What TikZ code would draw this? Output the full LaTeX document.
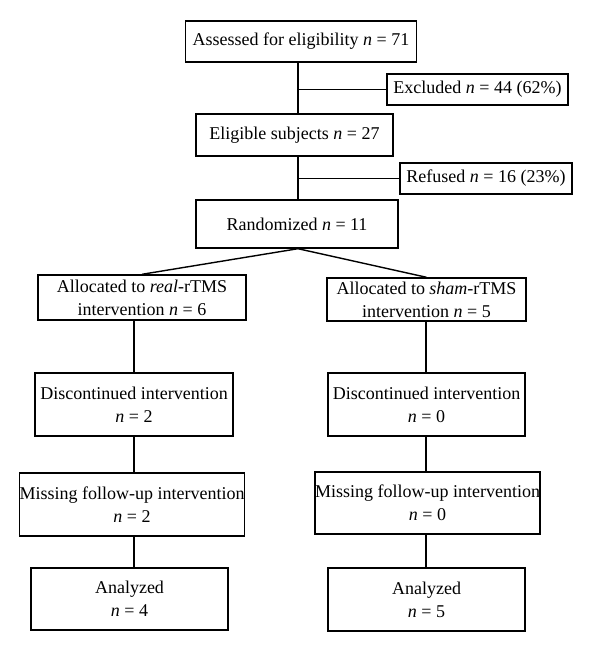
\documentclass[tikz,border=0pt]{standalone}
\usepackage{fontspec}
\setmainfont{Liberation Serif}
\newcommand{\nn}{\textit{n}}
\begin{document}
\begin{tikzpicture}[x=1pt,y=-1pt,
  every node/.style={font=\fontsize{18}{23}\selectfont},
  box/.style={draw, line width=1.4pt, rectangle, align=center, inner sep=0pt},
  conn/.style={line width=1.4pt}]
\useasboundingbox[fill=white] (0,0) rectangle (600,652);
\coordinate (t) at (298,0);
\coordinate (lx) at (134,0);
\coordinate (rx) at (426,0);
\node[box, minimum width=231pt, minimum height=41pt] (A) at (301,41.5) {Assessed for eligibility \nn{} = 71};
\node[box, minimum width=181pt, minimum height=31pt] (Ex) at (477.5,89.5) {Excluded \nn{} = 44 (62\%)};
\node[box, minimum width=197pt, minimum height=42pt] (El) at (294.5,135) {Eligible subjects \nn{} = 27};
\node[box, minimum width=172pt, minimum height=31pt] (Rf) at (486,178.5) {Refused \nn{} = 16 (23\%)};
\node[box, minimum width=202pt, minimum height=48pt] (Ra) at (297,224) {Randomized \nn{} = 11};
\node[box, minimum width=208pt, minimum height=45pt] (L1) at (142,297.5) {Allocated to \textit{real}-rTMS\\intervention \nn{} = 6};
\node[box, minimum width=199pt, minimum height=43pt] (R1) at (426.5,299.5) {Allocated to \textit{sham}-rTMS\\intervention \nn{} = 5};
\node[box, minimum width=198pt, minimum height=63pt] (L2) at (134,404.5) {Discontinued intervention\\\nn{} = 2};
\node[box, minimum width=197pt, minimum height=63pt] (R2) at (426.5,404.5) {Discontinued intervention\\\nn{} = 0};
\node[box, minimum width=222pt, minimum height=63pt] (L3) at (132,504.5) {Missing follow-up intervention\\\nn{} = 2};
\node[box, minimum width=225pt, minimum height=62pt] (R3) at (427.5,503) {Missing follow-up intervention\\\nn{} = 0};
\node[box, minimum width=197pt, minimum height=62pt] (L4) at (129.5,599) {Analyzed\\\nn{} = 4};
\node[box, minimum width=197pt, minimum height=63pt] (R4) at (426.5,599.5) {Analyzed\\\nn{} = 5};
\draw[conn] (A.south -| t) -- (El.north -| t);
\draw[conn] (t |- Ex.west) -- (Ex.west);
\draw[conn] (El.south -| t) -- (Ra.north -| t);
\draw[conn] (t |- Rf.west) -- (Rf.west);
\draw[conn] (Ra.south -| t) -- (L1.north);
\draw[conn] (Ra.south -| t) -- (R1.north);
\draw[conn] (L1.south -| lx) -- (L2.north -| lx);
\draw[conn] (L2.south -| lx) -- (L3.north -| lx);
\draw[conn] (L3.south -| lx) -- (L4.north -| lx);
\draw[conn] (R1.south -| rx) -- (R2.north -| rx);
\draw[conn] (R2.south -| rx) -- (R3.north -| rx);
\draw[conn] (R3.south -| rx) -- (R4.north -| rx);
\end{tikzpicture}
\end{document}
